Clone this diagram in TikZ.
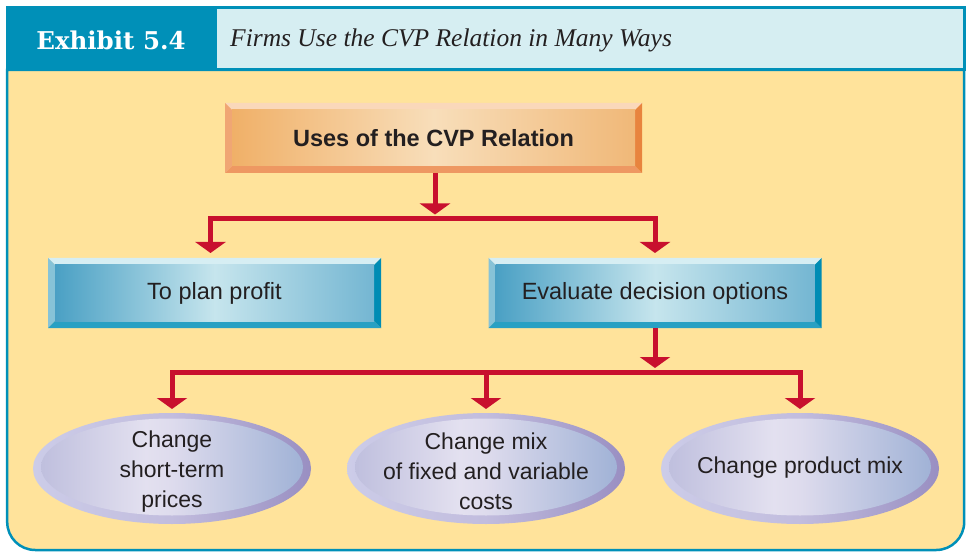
\documentclass[tikz,border=0pt]{standalone}
\usepackage{fontspec}
\setmainfont{Liberation Sans}
\newfontfamily\hdrfont{DejaVu Serif}
\newfontfamily\titlefont{Liberation Serif}
\usetikzlibrary{arrows.meta,calc,shapes.geometric,backgrounds}

\definecolor{exteal}{RGB}{0,144,184}
\definecolor{exlblue}{RGB}{214,238,242}
\definecolor{exyellow}{RGB}{255,227,155}
\definecolor{exred}{RGB}{200,16,46}
\definecolor{extext}{RGB}{35,31,32}
% orange box
\definecolor{obTop}{RGB}{250,216,186}
\definecolor{obLeft}{RGB}{240,166,116}
\definecolor{obBot}{RGB}{238,152,98}
\definecolor{obRight}{RGB}{232,132,62}
\definecolor{obFL}{RGB}{240,176,104}
\definecolor{obFM}{RGB}{248,222,186}
\definecolor{obFR}{RGB}{240,184,120}
% blue box
\definecolor{bbTop}{RGB}{214,238,243}
\definecolor{bbLeft}{RGB}{135,195,215}
\definecolor{bbBot}{RGB}{40,160,195}
\definecolor{bbRight}{RGB}{0,140,180}
\definecolor{bbFL}{RGB}{74,160,196}
\definecolor{bbFM}{RGB}{198,229,237}
\definecolor{bbFR}{RGB}{116,182,210}

\pgfdeclarehorizontalshading{ellrim}{100bp}{rgb(0bp)=(0.80,0.80,0.91); rgb(25bp)=(0.80,0.80,0.91); rgb(50bp)=(0.76,0.74,0.87); rgb(75bp)=(0.60,0.56,0.76); rgb(100bp)=(0.60,0.56,0.76)}
\pgfdeclarehorizontalshading{ellface}{100bp}{rgb(0bp)=(0.75,0.75,0.87); rgb(25bp)=(0.75,0.75,0.87); rgb(45bp)=(0.89,0.88,0.94); rgb(50bp)=(0.87,0.86,0.93); rgb(75bp)=(0.63,0.70,0.84); rgb(100bp)=(0.63,0.70,0.84)}

\newcommand\bevelshape[9]{%
  \path (#1.north west) coordinate (bnw) (#1.north east) coordinate (bne)
        (#1.south east) coordinate (bse) (#1.south west) coordinate (bsw);
  \path ($(bnw)+(#2,#2)$) coordinate (inw) ($(bne)+(-#2,#2)$) coordinate (ine)
        ($(bse)+(-#2,-#2)$) coordinate (ise) ($(bsw)+(#2,-#2)$) coordinate (isw)
        ($(inw)!0.5!(ine)$) coordinate (imt) ($(isw)!0.5!(ise)$) coordinate (imb);
  \fill[#3] (bnw)--(bne)--(ine)--(inw)--cycle;
  \fill[#4] (bnw)--(inw)--(isw)--(bsw)--cycle;
  \fill[#5] (bsw)--(isw)--(ise)--(bse)--cycle;
  \fill[#6] (bne)--(bse)--(ise)--(ine)--cycle;
  \shade[left color=#7,right color=#8] (inw) rectangle ($(imb)+(0.5,0)$);
  \shade[left color=#8,right color=#9] (imt) rectangle (ise);
}

\tikzset{
  boxnode/.style={rectangle,outer sep=0pt,inner sep=0pt,text=extext,
    font=\fontsize{23.5}{28}\selectfont},
  ellnode/.style={ellipse,outer sep=0pt,inner sep=0pt,minimum width=278,minimum height=111,
    shade,shading=ellrim},
  ellface/.style={shading=ellface},
  elltext/.style={align=center,text=extext,inner sep=0pt,font=\fontsize{23}{30}\selectfont},
  conn/.style={draw=exred,line width=5pt,-{Triangle[length=11pt,width=30pt]}},
  conn2/.style={draw=exred,line width=5pt,{Triangle[length=11pt,width=30pt]}-{Triangle[length=11pt,width=30pt]}},
}

\begin{document}
\begin{tikzpicture}[x=1pt,y=-1pt]
\useasboundingbox (0,0) rectangle (966,553);

% header text
\node[text=white,font=\hdrfont\bfseries\fontsize{24.5}{28}\selectfont,inner sep=0pt] (hdr) at (111,40) {Exhibit 5.4};
\node[anchor=west,text=extext,font=\titlefont\itshape\fontsize{25.5}{28}\selectfont,inner sep=0pt] (title) at (230,40) {Firms Use the CVP Relation in Many Ways};

% boxes
\node[boxnode,minimum width=417,minimum height=70,font=\bfseries\fontsize{23.5}{28}\selectfont] (top) at (433.5,138) {Uses of the CVP Relation};
\node[boxnode,minimum width=333,minimum height=70] (lbox) at (214.5,293) {To plan profit};
\node[boxnode,minimum width=333,minimum height=70] (rbox) at (655,293) {Evaluate decision options};

% ellipses
\node[ellnode] (e1) at (172,468.5) {};
\shade[ellface] ($(e1.center)+(0,-1.5)$) ellipse [x radius=131,y radius=48.5];
\node[ellnode] (e2) at (486,468.5) {};
\shade[ellface] ($(e2.center)+(0,-1.5)$) ellipse [x radius=131,y radius=48.5];
\node[ellnode] (e3) at (800,468.5) {};
\shade[ellface] ($(e3.center)+(0,-1.5)$) ellipse [x radius=131,y radius=48.5];

\node[elltext] (t1) at (172,471.5) {Change\\short-term\\prices};
\node[elltext] (t2) at (486,471.5) {Change mix\\of fixed and variable\\costs};
\node[elltext] (t3) at (800,468) {Change product mix};

% background: frame and bevelled boxes
\begin{scope}[on background layer]
  \fill[exteal] (6,6) rectangle (965.5,71);
  \fill[exlblue] (217,9) rectangle (962.5,68);
  \draw[exteal,line width=2.5pt,fill=exyellow]
    (7.2,70) -- (964.2,70) -- (964.2,522)
    .. controls (964.2,537.5) and (951.7,550) .. (936.2,550)
    -- (35.2,550) .. controls (19.7,550) and (7.2,537.5) .. (7.2,522) -- cycle;
  \bevelshape{top}{7}{obTop}{obLeft}{obBot}{obRight}{obFL}{obFM}{obFR}
  \bevelshape{lbox}{7}{bbTop}{bbLeft}{bbBot}{bbRight}{bbFL}{bbFM}{bbFR}
  \bevelshape{rbox}{7}{bbTop}{bbLeft}{bbBot}{bbRight}{bbFL}{bbFM}{bbFR}
\end{scope}

% connectors
\coordinate (h1) at (435,218.5);
\coordinate (h2) at (486,372);
\draw[conn] (top.south -| h1) -- ($(h1)+(0,-4)$);
\draw[conn2] ($(lbox.north)+(-4,-5)$) |- (h1) -| ($(rbox.north)+(0,-5)$);
\draw[conn] (rbox.south) -- ($(rbox.south |- h2)+(0,-4)$);
\draw[conn2] ($(e1.north)+(0,-4)$) |- (h2) -| ($(e3.north)+(0,-4)$);
\draw[conn] (h2) -- ($(e2.north)+(0,-4)$);
\end{tikzpicture}
\end{document}
